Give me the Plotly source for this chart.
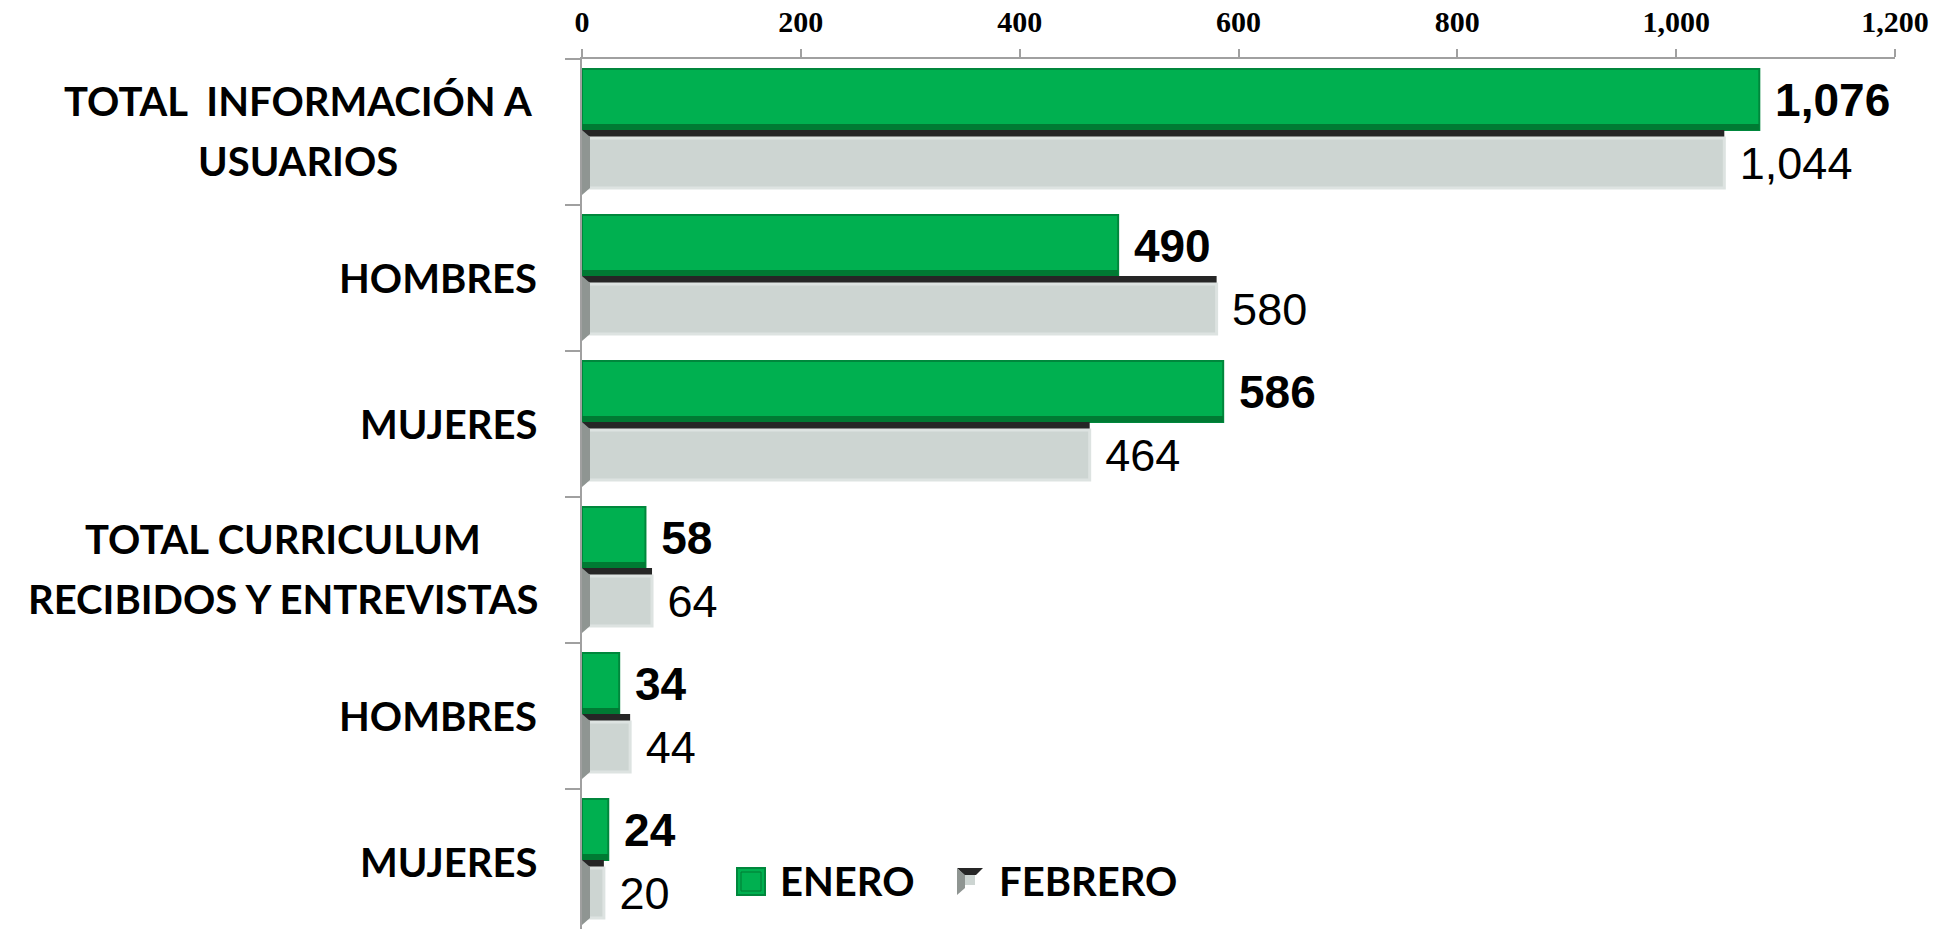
import plotly.graph_objects as go

# ---- data ----
label_lines = [
    ["TOTAL\u00a0\u00a0INFORMACIÓN A", "USUARIOS"],
    ["HOMBRES"],
    ["MUJERES"],
    ["TOTAL CURRICULUM", "RECIBIDOS Y ENTREVISTAS"],
    ["HOMBRES"],
    ["MUJERES"],
]
enero = [1076, 490, 586, 58, 34, 24]
febrero = [1044, 580, 464, 64, 44, 20]
series_names = ["ENERO", "FEBRERO"]
x_ticks = [0, 200, 400, 600, 800, 1000, 1200]

# ---- page geometry (pixels) ----
W, H = 1934, 929
LEFT, RIGHT_EDGE, TOP = 582, 1895, 59
BAND = 146.0                     # height of one category band
PLOT_W = RIGHT_EDGE - LEFT
PLOT_H = H - TOP

pos = list(range(len(label_lines)))


def px_x(px):
    return (px - LEFT) / PLOT_W


def px_y(py):
    return (H - py) / PLOT_H


GREEN = "#00b050"
GREEN_EDGE = "#00873c"
GREEN_DARK = "#007a33"
GREY = "#cdd5d2"
GREY_EDGE = "#dde3e1"
SIDE = "#8f9592"
TOPFACE = "#262626"

fig = go.Figure()

# ENERO bars
fig.add_trace(go.Bar(
    name=series_names[0], orientation="h", x=enero, y=pos,
    offset=-63 / BAND, width=61 / BAND,
    marker=dict(color=GREEN, line=dict(color=GREEN_EDGE, width=2)),
    texttemplate="\u00a0%{x:,}", textposition="outside", constraintext="none",
    textfont=dict(family="Liberation Sans, Arial", size=46, color="black", weight="bold"),
    cliponaxis=False, hoverinfo="skip", showlegend=False,
))

# ENERO bars: darker lower bevel edge
fig.add_trace(go.Bar(
    name=series_names[0] + " bevel", orientation="h", x=enero, y=pos,
    offset=-8 / BAND, width=6 / BAND,
    marker=dict(color=GREEN_DARK, line=dict(width=0)),
    hoverinfo="skip", showlegend=False,
))

# FEBRERO bars: dark top face of the 3-D bar
fig.add_trace(go.Bar(
    name=series_names[1] + " top", orientation="h", x=febrero, y=pos,
    offset=-2 / BAND, width=7 / BAND,
    marker=dict(color=TOPFACE, line=dict(width=0)),
    hoverinfo="skip", showlegend=False,
))

# FEBRERO bars: front face
fig.add_trace(go.Bar(
    name=series_names[1], orientation="h", x=febrero, y=pos,
    offset=6 / BAND, width=50 / BAND,
    marker=dict(color=GREY, line=dict(color=GREY_EDGE, width=3)),
    texttemplate="\u00a0%{x:,}", textposition="outside", constraintext="none",
    textfont=dict(family="Liberation Sans, Arial", size=45, color="black"),
    cliponaxis=False, hoverinfo="skip", showlegend=False,
))

shapes = []
# left side face of each FEBRERO bar (8 px deep)
for p in pos:
    shapes.append(dict(
        type="path", xref="x", yref="y", xsizemode="pixel", xanchor=0,
        path=(f"M0,{p - 2 / BAND} L8,{p + 5 / BAND} L8,{p + 56 / BAND} "
              f"L0,{p + 63 / BAND} Z"),
        fillcolor=SIDE, line=dict(width=0), layer="above",
    ))

annotations = []
# category labels
label_center_px = {0: 298, 3: 283}
LINE_GAP = 60
for p, lines in zip(pos, label_lines):
    n = len(lines)
    for k, line in enumerate(lines):
        shift = -((k - (n - 1) / 2) * LINE_GAP) + (1 if n > 1 else 0)
        if n > 1:
            x, xa = px_x(label_center_px[p]), "center"
        else:
            x, xa = px_x(539), "right"
        annotations.append(dict(
            text=line, xref="paper", yref="y", x=x, y=p, yshift=shift,
            xanchor=xa, yanchor="middle", showarrow=False,
            font=dict(family="Lato", size=40, color="black", weight="bold"),
        ))

# legend
LEG_Y = 881
shapes += [
    dict(type="rect", xref="paper", yref="paper",
         x0=px_x(737), x1=px_x(765), y0=px_y(895), y1=px_y(868),
         fillcolor=GREEN, line=dict(color=GREEN_EDGE, width=2)),
    dict(type="rect", xref="paper", yref="paper",
         x0=px_x(741), x1=px_x(761), y0=px_y(891), y1=px_y(872),
         fillcolor="rgba(0,0,0,0)", line=dict(color=GREEN_DARK, width=1)),
    dict(type="path", xref="paper", yref="paper",
         path=(f"M{px_x(957)},{px_y(868)} L{px_x(983)},{px_y(868)} "
               f"L{px_x(976)},{px_y(875)} L{px_x(964)},{px_y(875)} Z"),
         fillcolor=TOPFACE, line=dict(width=0)),
    dict(type="path", xref="paper", yref="paper",
         path=(f"M{px_x(957)},{px_y(868)} L{px_x(965)},{px_y(875)} "
               f"L{px_x(965)},{px_y(888)} L{px_x(957)},{px_y(895)} Z"),
         fillcolor=SIDE, line=dict(width=0)),
    dict(type="rect", xref="paper", yref="paper",
         x0=px_x(965), x1=px_x(975), y0=px_y(885), y1=px_y(875),
         fillcolor=GREY, line=dict(width=0)),
]
for name, xpx in zip(series_names, [778, 997]):
    annotations.append(dict(
        text=name, xref="paper", yref="paper", x=px_x(xpx), y=px_y(LEG_Y),
        xanchor="left", yanchor="middle", showarrow=False,
        font=dict(family="Lato", size=40, color="black", weight="bold"),
    ))

AXIS_GREY = "#a0a0a0"
fig.update_layout(
    width=W, height=H,
    margin=dict(l=LEFT, r=W - RIGHT_EDGE, t=TOP, b=0, pad=0),
    paper_bgcolor="white", plot_bgcolor="white",
    barmode="overlay", showlegend=False,
    shapes=shapes, annotations=annotations,
    xaxis=dict(
        side="top", range=[0, 1200], tickvals=x_ticks,
        ticktext=[f"{v:,}" for v in x_ticks],
        showgrid=False, zeroline=False,
        showline=True, linecolor=AXIS_GREY, linewidth=2,
        ticks="outside", ticklen=8, tickwidth=2, tickcolor=AXIS_GREY,
        tickfont=dict(family="Liberation Serif, Times New Roman", size=30,
                      color="black", weight="bold"),
        ticklabelstandoff=5,
    ),
    yaxis=dict(
        range=[-0.5 + PLOT_H / BAND, -0.5],
        tickvals=[p - 0.5 for p in pos], showticklabels=False,
        showgrid=False, zeroline=False,
        showline=True, linecolor=AXIS_GREY, linewidth=2,
        ticks="outside", ticklen=15, tickwidth=2, tickcolor=AXIS_GREY,
    ),
)

fig.write_html("out.html")
